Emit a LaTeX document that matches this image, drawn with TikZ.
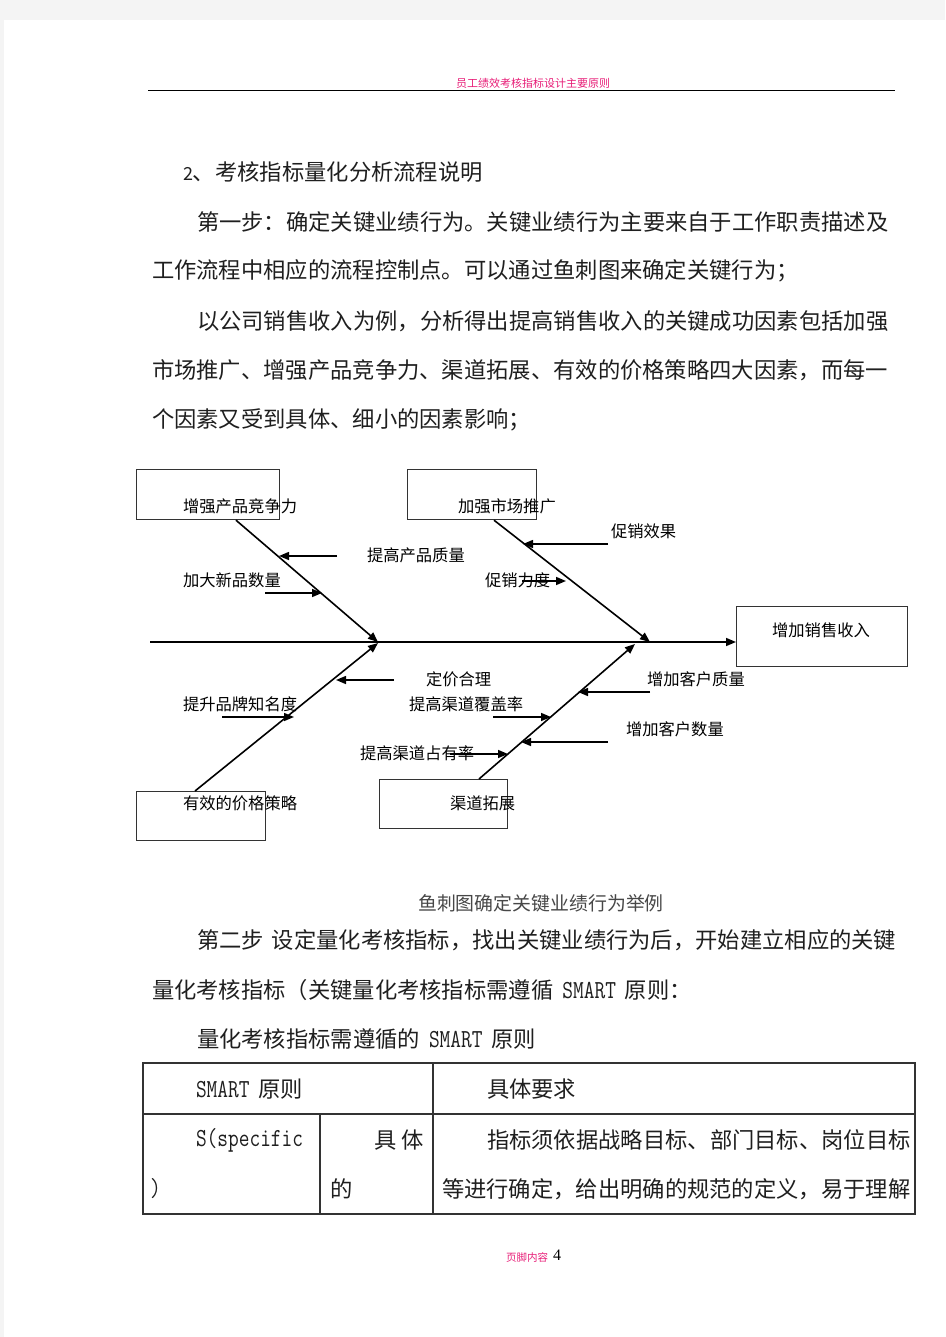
\documentclass[tikz,border=0pt]{standalone}
\usepackage{fontspec}
\usepackage{graphicx}
\usetikzlibrary{arrows.meta}
\newfontfamily\cjk{Noto Sans CJK SC}
\newfontfamily\serifnum{Liberation Serif}
\newcommand{\lat}[1]{\scalebox{0.8}[1]{\ttfamily\fontsize{26}{28}\selectfont #1}}
\definecolor{pagegray}{HTML}{F4F4F4}
\definecolor{hdrpink}{RGB}{232,30,120}
\tikzset{
  txt/.style={inner sep=0pt, outer sep=0pt},
  body/.style={txt, anchor=west, font=\cjk\fontsize{22.3}{24}\selectfont, text=black!88},
  fishlbl/.style={txt, anchor=west, font=\cjk\fontsize{16.3}{18}\selectfont, text=black},
  causebox/.style={draw=black!80, line width=1.2pt, inner sep=0pt, anchor=north west},
  bone/.style={line width=1.6pt, -{Triangle[length=10pt,width=8pt]}},
  twig/.style={line width=1.5pt, -{Triangle[length=10pt,width=8pt]}},
  tbl/.style={line width=1.3pt, draw=black!80},
}
\begin{document}
\begin{tikzpicture}[x=1pt,y=-1pt]
% page
\fill[pagegray] (0,0) rectangle (945,1337);
\fill[white] (4,20) rectangle (945,1337);
\useasboundingbox (0,0) rectangle (945,1337);
% header
\node[txt, font=\cjk\fontsize{11}{12}\selectfont, text=hdrpink] (hdr) at (533,83) {员工绩效考核指标设计主要原则};
\draw[line width=1.4pt] (148,90.5) -- (895,90.5);
% body text
\node[body] (t0) at (183,172) {{\fontsize{18}{20}\selectfont 2}、考核指标量化分析流程说明};
\node[body] (t1) at (197,222) {第一步：确定关键业绩行为。关键业绩行为主要来自于工作职责描述及};
\node[body] (t2) at (152,271) {工作流程中相应的流程控制点。可以通过鱼刺图来确定关键行为；};
\node[body] (t3) at (197,321) {以公司销售收入为例，分析得出提高销售收入的关键成功因素包括加强};
\node[body] (t4) at (152,370) {市场推广、增强产品竞争力、渠道拓展、有效的价格策略四大因素，而每一};
\node[body] (t5) at (152,420) {个因素又受到具体、细小的因素影响；};
% fishbone boxes
\node[causebox, minimum width=143pt, minimum height=50pt] (b1) at (136,469) {};
\node[causebox, minimum width=129pt, minimum height=50pt] (b2) at (407,469) {};
\node[causebox, minimum width=129pt, minimum height=49pt] (b3) at (136,791) {};
\node[causebox, minimum width=128pt, minimum height=49pt] (b4) at (379,779) {};
\node[causebox, minimum width=171pt, minimum height=60pt] (head) at (736,606) {};
\node[fishlbl] (l1) at (183,506) {增强产品竞争力};
\node[fishlbl] (l2) at (458,506) {加强市场推广};
\node[fishlbl] (l3) at (183,803) {有效的价格策略};
\node[fishlbl] (l4) at (450,803) {渠道拓展};
\node[fishlbl, anchor=center] (lh) at (821,630) {增加销售收入};
% spine and bones
\coordinate (tail) at (150,642);
\coordinate (j1) at (378,642);
\coordinate (j2) at (650,642);
\coordinate (j3) at (378,643);
\coordinate (j4) at (635,644);
\draw[bone] (tail) -- (tail -| head.west);
\draw[bone] ([xshift=100pt]b1.south west) -- (j1);
\draw[bone] ([xshift=87pt]b2.south west) -- (j2);
\draw[bone] ([xshift=59pt]b3.north west) -- (j3);
\draw[bone] ([xshift=100pt]b4.north west) -- (j4);
% sub-cause labels
\node[fishlbl] (s1) at (367,555) {提高产品质量};
\node[fishlbl] (s2) at (183,580) {加大新品数量};
\node[fishlbl] (s3) at (611,531) {促销效果};
\node[fishlbl] (s4) at (485,580) {促销力度};
\node[fishlbl] (s5) at (426,679) {定价合理};
\node[fishlbl] (s6) at (183,704) {提升品牌知名度};
\node[fishlbl] (s7) at (409,704) {提高渠道覆盖率};
\node[fishlbl] (s8) at (647,679) {增加客户质量};
\node[fishlbl] (s9) at (626,729) {增加客户数量};
\node[fishlbl] (s10) at (360,753) {提高渠道占有率};
% twig coordinates
\coordinate (a1) at (337,556); \coordinate (a1t) at (279,556);
\coordinate (a2) at (265,593); \coordinate (a2t) at (322,593);
\coordinate (a3) at (608,544); \coordinate (a3t) at (523,544);
\coordinate (a4) at (522,581); \coordinate (a4t) at (566,581);
\coordinate (a5) at (394,680); \coordinate (a5t) at (336,680);
\coordinate (a6) at (222,717); \coordinate (a6t) at (294,717);
\coordinate (a7) at (493,717); \coordinate (a7t) at (551,717);
\coordinate (a8) at (650,692); \coordinate (a8t) at (578,692);
\coordinate (a9) at (608,742); \coordinate (a9t) at (521,742);
\coordinate (a10) at (450,754); \coordinate (a10t) at (508,754);
\foreach \i in {1,...,10} {\draw[twig] (a\i) -- (a\i t);}
% caption
\node[txt, font=\cjk\fontsize{18.9}{20}\selectfont, text=black!72] (cap) at (541,903) {鱼刺图确定关键业绩行为举例};
% second step
\node[body] (u1) at (197,940) {第二步\hspace{8pt}设定量化考核指标，找出关键业绩行为后，开始建立相应的关键};
\node[body] (u2) at (152,990) {量化考核指标（关键量化考核指标需遵循\hspace{9pt}\lat{SMART}\hspace{9pt}原则：};
\node[body] (u3) at (197,1039) {量化考核指标需遵循的\hspace{9pt}\lat{SMART}\hspace{9pt}原则};
% table
\draw[tbl] (143,1063) rectangle (915,1214);
\draw[tbl] (143,1114) -- (915,1114);
\draw[tbl] (433,1063) -- (433,1214);
\draw[tbl] (320,1114) -- (320,1214);
\node[body] (c1) at (196,1089) {\lat{SMART}\hspace{9pt}原则};
\node[body] (c2) at (487,1089) {具体要求};
\node[body] (c3) at (196,1140) {\lat{S(specific}};
\node[body] (c3b) at (150,1189) {\lat{)}};
\node[body] (c4) at (374,1140) {具\hspace{5pt}体};
\node[body] (c4b) at (330,1189) {的};
\node[body] (c5) at (487,1140) {指标须依据战略目标、部门目标、岗位目标};
\node[body] (c6) at (442,1189) {等进行确定，给出明确的规范的定义，易于理解};
% footer
\node[txt, anchor=west, font=\cjk\fontsize{10.5}{12}\selectfont, text=hdrpink] (ft) at (506,1257) {页脚内容};
\node[txt, anchor=west, font=\serifnum\fontsize{16}{18}\selectfont] (pg) at (553,1255) {4};
\end{tikzpicture}
\end{document}
